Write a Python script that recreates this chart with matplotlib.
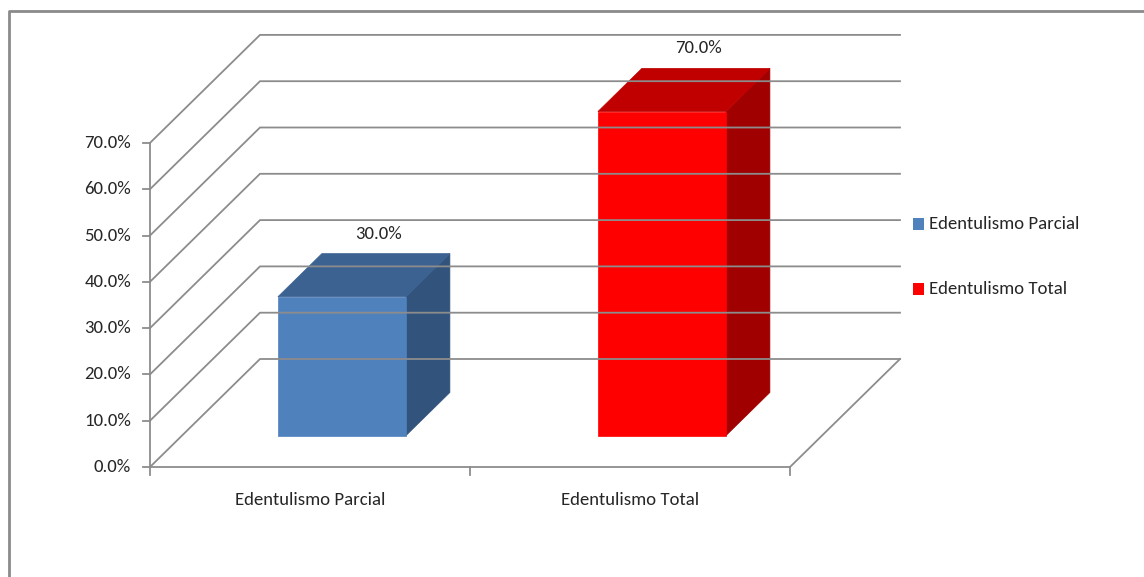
import matplotlib
matplotlib.use("Agg")
import matplotlib.pyplot as plt
from matplotlib.patches import Polygon

# dados
categorias = ["Edentulismo Parcial", "Edentulismo Total"]
valores = [0.30, 0.70]
rotulos = ["30.0%", "70.0%"]
ticks_y = [0.0, 0.1, 0.2, 0.3, 0.4, 0.5, 0.6, 0.7]

cor_frente = ["#4f81bd", "#ff0000"]
cor_topo = ["#3c6291", "#c00000"]
cor_lado = ["#32537c", "#a00000"]

# Carlito = metricas do Calibri
plt.rcParams['font.family'] = ['Carlito', 'DejaVu Sans']
tam = 13.5

cinza = "#8c8c8c"
cor_texto = "#262626"

W, H = 1144, 577
fig = plt.figure(figsize=(W / 100, H / 100), dpi=100)
ax = fig.add_axes([0, 0, 1, 1])

# escala: 1 categoria = 320 px, 1.0 = 463 px
px_x, px_y = 320.0, 463.0
x0_px, y0_px = 150.0, 110.0
ax.set_xlim(-x0_px / px_x, (W - x0_px) / px_x)
ax.set_ylim(-y0_px / px_y, (H - y0_px) / px_y)
ax.axis("off")

# deslocamento de profundidade
DX = 110 / px_x
DY = 108 / px_y
ymax = ticks_y[-1]
ncat = len(categorias)


def proj(x, y, d):
    return (x + d * DX, y + d * DY)


# moldura (apenas topo e esquerda visiveis)
ax.plot([9 / px_x - x0_px / px_x, 9 / px_x - x0_px / px_x, (W + 5 - x0_px) / px_x],
        [-(y0_px + 20) / px_y, (H - 11 - y0_px) / px_y, (H - 11 - y0_px) / px_y],
        color="#8a8a8a", lw=2, solid_capstyle="butt", clip_on=False)

# paredes: linhas de grade
for t in ticks_y:
    fx, fy = proj(0, t, 0)
    bx, by = proj(0, t, 1)
    ex, ey = proj(ncat, t, 1)
    ax.plot([fx, bx, ex], [fy, by, ey], color=cinza, lw=1.3, solid_joinstyle="miter")

# piso
ax.plot([0, ncat, proj(ncat, 0, 1)[0]], [0, 0, proj(ncat, 0, 1)[1]], color=cinza, lw=1.3)

# eixo vertical e ticks
ax.plot([0, 0], [0, ymax], color=cinza, lw=1.3)
for t in ticks_y:
    ax.plot([-7 / px_x, 0], [t, t], color=cinza, lw=1.3)
    ax.text(-19 / px_x, t, f"{t * 100:.1f}%", ha="right", va="center",
            fontsize=tam, color=cor_texto)
for i in range(ncat + 1):
    ax.plot([i, i], [0, -8 / px_y], color=cinza, lw=1.3)
for i, c in enumerate(categorias):
    ax.text(i + 0.5, -33 / px_y, c, ha="center", va="center", fontsize=tam, color=cor_texto)

# barras 3D
largura = 0.4
d0, d1 = 0.29, 0.69
for i, v in enumerate(valores):
    xl = i + 0.5 - largura / 2
    xr = i + 0.5 + largura / 2
    frente = [proj(xl, 0, d0), proj(xr, 0, d0), proj(xr, v, d0), proj(xl, v, d0)]
    topo = [proj(xl, v, d0), proj(xr, v, d0), proj(xr, v, d1), proj(xl, v, d1)]
    lado = [proj(xr, 0, d0), proj(xr, 0, d1), proj(xr, v, d1), proj(xr, v, d0)]
    for pts, cor in [(lado, cor_lado[i]), (topo, cor_topo[i]), (frente, cor_frente[i])]:
        ax.add_patch(Polygon(pts, closed=True, facecolor=cor, edgecolor=cor, lw=0.5))
    lx, ly = proj(i + 0.5, v, 0.62)
    ax.text(lx, proj(0, v, d1)[1] + 20 / px_y, rotulos[i], ha="center", va="center",
            fontsize=tam, color=cor_texto)

# legenda
leg_x = (913 - x0_px) / px_x
for i, c in enumerate(categorias):
    yc = (H - 224 - 65 * i - y0_px) / px_y
    ax.add_patch(Polygon([(leg_x, yc - 6 / px_y), (leg_x + 11 / px_x, yc - 6 / px_y),
                          (leg_x + 11 / px_x, yc + 6 / px_y), (leg_x, yc + 6 / px_y)],
                         closed=True, facecolor=cor_frente[i], edgecolor="none"))
    ax.text(leg_x + 16 / px_x, yc, c, ha="left", va="center", fontsize=tam, color=cor_texto)

fig.savefig("out.png", dpi=100)
